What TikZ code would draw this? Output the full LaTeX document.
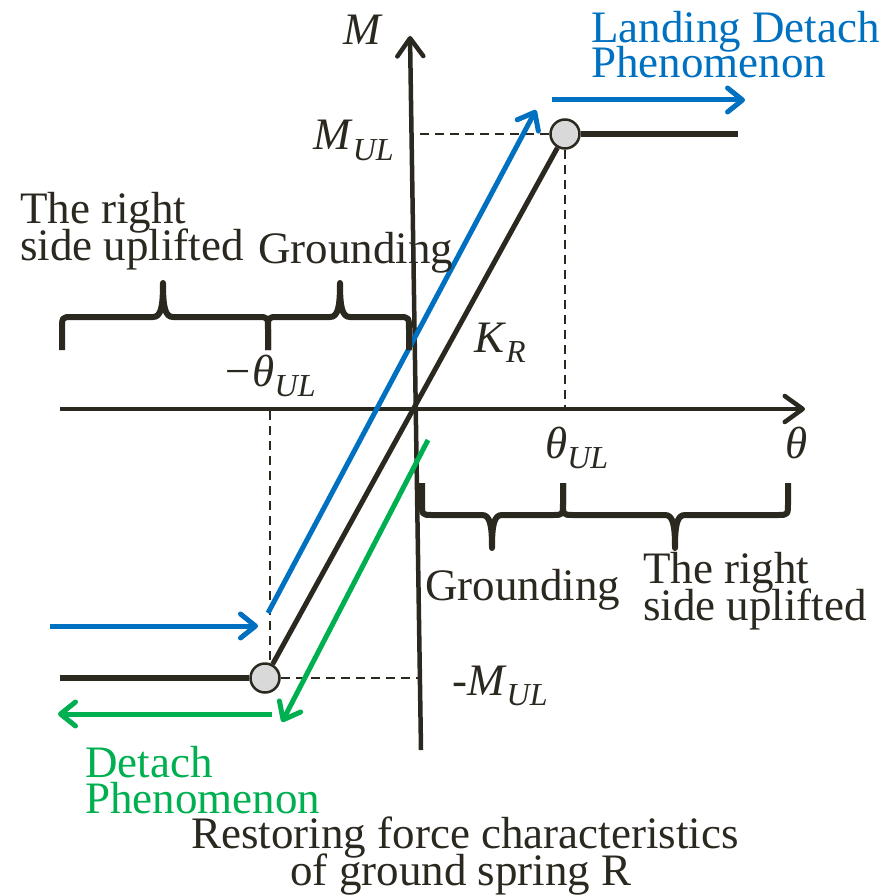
\documentclass[tikz,border=0pt]{standalone}
\usepackage{fontspec}
\setmainfont{Liberation Serif}
\usetikzlibrary{arrows.meta}
\definecolor{ink}{HTML}{2B2820}
\definecolor{bblue}{HTML}{0070C0}
\definecolor{ggreen}{HTML}{00B050}
\definecolor{cfill}{HTML}{D9D9D9}
\newcommand\sublbl[2]{\textit{#1}\raisebox{-10pt}{\fontsize{32}{32}\selectfont\textit{#2}}}
\newcommand\drawbrace[6]{%
 \draw[bracestyle] ({#1},{#4+(#5)}) -- ({#1},{#4+0.4*(#5)}) .. controls ({#1},{#4}) and ({#1},{#4}) .. ({#1+10},{#4})
  -- ({#3-10},{#4}) .. controls ({#3-2},{#4}) and ({#3},{#4+0.3*(#6)}) .. ({#3},{#4+(#6)})
  .. controls ({#3},{#4+0.3*(#6)}) and ({#3+2},{#4}) .. ({#3+10},{#4})
  -- ({#2-10},{#4}) .. controls ({#2},{#4}) and ({#2},{#4}) .. ({#2},{#4+0.4*(#5)}) -- ({#2},{#4+(#5)});}
\begin{document}
\begin{tikzpicture}[x=1pt,y=-1pt,
  txt/.style={font=\fontsize{45}{36}\selectfont, inner sep=0, anchor=base west, text=ink},
  axisline/.style={draw=ink, line width=4.5pt, -{Straight Barb[length=18pt,width=26pt,round]}},
  mainline/.style={draw=ink, line width=5pt},
  dashline/.style={draw=ink, line width=2.6pt, dash pattern=on 9pt off 6pt},
  barrow/.style={draw=bblue, line width=5pt, -{Straight Barb[length=15pt,width=24pt,round]}},
  garrow/.style={draw=ggreen, line width=5pt, -{Straight Barb[length=15pt,width=24pt,round]}},
  bracestyle/.style={draw=ink, line width=6pt, line join=round},
  dot/.style={circle, draw=ink, fill=cfill, line width=2.5pt, minimum size=29pt, inner sep=0}]
\useasboundingbox (0,0) rectangle (884,896);
% axes
\coordinate (xs) at (60,409);
\coordinate (xe) at (805,409);
\coordinate (ys) at (421,750);
\coordinate (ye) at (410,36);
\draw[axisline] (xs) -- (xe);
\draw[axisline] (ys) -- (ye);
% circles
\node[dot] (cu) at (565,134) {};
\node[dot] (cl) at (265,678) {};
\coordinate (pu) at (738,134);
\coordinate (pl) at (60,678);
\coordinate (dmu) at (412,134);
\coordinate (dtu) at (565,409);
\coordinate (dml) at (420,678);
\coordinate (dtlt) at (270,411);
\coordinate (dtlb) at (270,664);
\draw[dashline] (cu) -- (dmu);
\draw[dashline] (cu) -- (dtu);
\draw[dashline] (cl) -- (dml);
\draw[dashline] (dtlt) -- (dtlb);
\draw[mainline] (cl) -- (cu);
\draw[mainline, line width=6pt] (cu) -- (pu);
\draw[mainline, line width=6pt] (cl) -- (pl);
% blue arrows
\coordinate (bd1) at (268,613);
\coordinate (bd2) at (536,110);
\coordinate (bt1) at (552,100);
\coordinate (bt2) at (745,100);
\coordinate (bb1) at (50,626);
\coordinate (bb2) at (258,626);
\draw[barrow] (bd1) -- (bd2);
\draw[barrow] (bt1) -- (bt2);
\draw[barrow] (bb1) -- (bb2);
% green arrows
\coordinate (gd1) at (428,440);
\coordinate (gd2) at (282,722);
\coordinate (gh1) at (272,714);
\coordinate (gh2) at (58,714);
\draw[garrow] (gd1) -- (gd2);
\draw[garrow] (gh1) -- (gh2);
% braces
\drawbrace{62}{268}{163}{317}{33}{-34}
\drawbrace{268}{409}{340}{317}{33}{-34}
\drawbrace{422}{563}{492}{515}{-32}{33}
\drawbrace{563}{788}{675}{515}{-32}{33}
% axis labels
\node[txt] (lm) at (343,45) {\textit{M}};
\node[txt] (lmul) at (313,150) {\sublbl{M}{UL}};
\node[txt] (lmmul) at (452,695) {\sublbl{-M}{UL}};
\node[txt] (lth) at (785,458) {\textit{θ}};
\node[txt] (lthul) at (545,458) {\sublbl{θ}{UL}};
\node[txt] (lmthul) at (222,386) {\sublbl{−θ}{UL}};
\node[txt] (lkr) at (474,352) {\sublbl{K}{R}};
% texts
\node[txt, text=bblue] (t1a) at (591,43) {Landing Detach};
\node[txt, text=bblue] (t1b) at (591,78) {Phenomenon};
\node[txt] (t2a) at (20,223) {The right};
\node[txt] (t2b) at (20,260) {side uplifted};
\node[txt] (t3) at (258,263) {Grounding};
\node[txt] (t4) at (425,600) {Grounding};
\node[txt] (t5a) at (643,583) {The right};
\node[txt] (t5b) at (643,620) {side uplifted};
\node[txt, text=ggreen] (t6a) at (85,777) {Detach};
\node[txt, text=ggreen] (t6b) at (85,813) {Phenomenon};
\node[txt, anchor=base] (t7a) at (465,848) {Restoring force characteristics};
\node[txt, anchor=base] (t7b) at (461,885) {of ground spring R};
\end{tikzpicture}
\end{document}
